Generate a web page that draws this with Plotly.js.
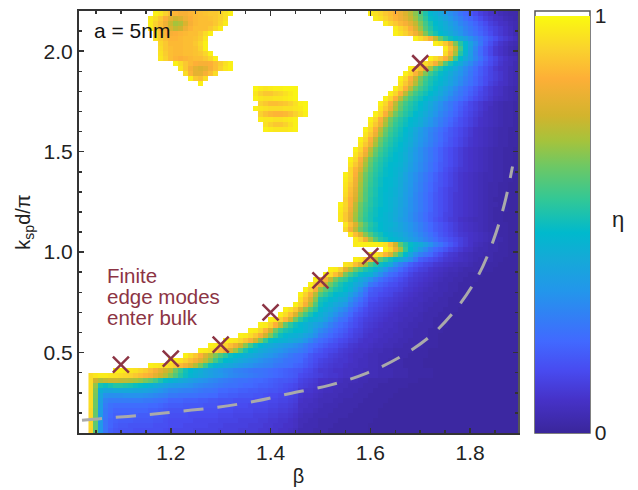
<!DOCTYPE html>
<html><head><meta charset="utf-8">
<script src="https://cdn.plot.ly/plotly-3.0.1.min.js"></script>
<style>html,body{margin:0;padding:0;background:#fff}</style></head>
<body><div id="g" style="width:638px;height:490px"></div>
<script>
const betaCols=[1.04,1.05,1.06,1.07,1.08,1.09,1.10,1.11,1.12,1.13,1.14,1.15,1.16,1.17,1.18,1.19,1.20,1.21,1.22,1.23,1.24,1.25,1.26,1.27,1.28,1.29,1.30,1.31,1.32,1.33,1.34,1.35,1.36,1.37,1.38,1.39,1.40,1.41,1.42,1.43,1.44,1.45,1.46,1.47,1.48,1.49,1.50,1.51,1.52,1.53,1.54,1.55,1.56,1.57,1.58,1.59,1.60,1.61,1.62,1.63,1.64,1.65,1.66,1.67,1.68,1.69,1.70,1.71,1.72,1.73,1.74,1.75,1.76,1.77,1.78,1.79,1.80,1.81,1.82,1.83,1.84,1.85,1.86,1.87,1.88,1.89,1.90];
const kRows=[2.1875,2.1625,2.1375,2.1125,2.0875,2.0625,2.0375,2.0125,1.9875,1.9625,1.9375,1.9125,1.8875,1.8625,1.8375,1.8125,1.7875,1.7625,1.7375,1.7125,1.6875,1.6625,1.6375,1.6125,1.5875,1.5625,1.5375,1.5125,1.4875,1.4625,1.4375,1.4125,1.3875,1.3625,1.3375,1.3125,1.2875,1.2625,1.2375,1.2125,1.1875,1.1625,1.1375,1.1125,1.0875,1.0625,1.0375,1.0125,0.9875,0.9625,0.9375,0.9125,0.8875,0.8625,0.8375,0.8125,0.7875,0.7625,0.7375,0.7125,0.6875,0.6625,0.6375,0.6125,0.5875,0.5625,0.5375,0.5125,0.4875,0.4625,0.4375,0.4125,0.3875,0.3625,0.3375,0.3125,0.2875,0.2625,0.2375,0.2125,0.1875,0.1625,0.1375,0.1125];
// each row: [first column, values (percent)] segments; everything else is white
const etaRows=[
[[13,[98,96,92,88,86,84,84,86,87,88,89,90,90,92,95,98]],[56,[97,95,93,90,88,85,82,78,73,67,60,53,47,44,40,36,32,29,25,22,18,15,12,10,8,7,5,4,3,3,2]]],
[[12,[97,94,90,85,80,76,78,82,85,87,88,88,89,90,92,95]],[57,[97,95,92,89,86,83,80,75,69,62,55,49,46,43,39,35,31,28,24,21,18,15,12,10,8,7,5,4,3,3]]],
[[12,[97,92,88,82,75,70,72,78,84,87,88,88,88,90,93,97]],[59,[97,93,90,87,84,80,74,66,58,52,48,45,42,38,34,30,27,24,21,18,15,12,10,8,7,5,4,3]]],
[[12,[97,92,88,84,78,74,76,82,86,88,88,88,90,93,97]],[61,[97,93,90,85,78,69,60,54,49,46,43,40,36,33,29,26,23,20,17,14,12,10,8,6,4,3]]],
[[13,[94,90,86,84,85,86,87,88,88,90,94,98]],[61,[98,95,92,88,83,76,66,57,52,48,45,42,38,34,30,27,24,21,18,15,12,10,8,6,4,3]]],
[[13,[95,91,88,86,86,87,88,88,89,91,96]],[65,[98,94,90,84,74,63,55,50,46,42,38,33,29,25,21,18,15,12,10,8,6,4]]],
[[14,[93,90,87,87,87,88,88,90,93,98]],[69,[98,95,90,80,66,54,47,39,32,26,20,16,12,9,7,5,4,3]]],
[[14,[94,90,88,87,87,88,88,89,92,98]],[71,[97,88,74,58,47,38,30,23,18,14,10,8,6,4,3,2]]],
[[14,[95,91,88,87,87,88,88,89,90,93,98]],[71,[94,84,70,54,46,37,29,23,18,14,10,8,6,4,3,2]]],
[[14,[96,92,88,86,85,86,87,88,88,90,93,98]],[68,[98,94,90,85,74,58,48,42,36,30,25,20,16,13,10,8,6,5,3]]],
[[17,[98,94,90,87,85,84,84,85,88,91,95,98]],[66,[98,94,90,84,72,60,52,47,42,36,31,26,22,18,15,12,9,7,6,4,3]]],
[[18,[96,90,84,80,78,80,84,88,92,96,98]],[64,[98,93,88,80,70,60,54,49,45,41,36,31,27,23,19,16,13,10,8,7,5,4,3]]],
[[19,[94,86,80,80,84,88,94]],[63,[98,93,86,76,66,58,53,49,46,42,38,34,30,26,22,19,16,13,11,9,7,5,4,3]]],
[[20,[98,90,88,94]],[62,[98,93,85,75,65,58,53,50,47,44,40,36,32,28,25,21,18,15,13,11,9,7,5,4,3]]],
[[22,[98]],[62,[96,90,82,72,63,56,52,49,46,43,39,35,31,27,24,21,18,15,12,10,8,7,5,4,3]]],
[[33,[99,97,96,97,98,98,99,99,99]],[61,[98,93,85,73,64,58,54,50,47,43,39,35,31,27,24,21,18,15,12,10,8,7,5,4,3,3]]],
[[33,[96,92,90,90,92,93,95,97,99]],[60,[98,93,85,73,64,58,54,51,48,45,41,37,33,29,26,23,20,17,14,12,10,8,7,5,4,3,3]]],
[[33,[98,96,95,95,96,96,97,98,99]],[59,[98,93,85,73,64,58,54,51,48,45,42,38,34,30,27,24,21,18,15,13,11,9,7,6,5,4,3,2]]],
[[34,[92,90,88,88,89,90,92,95,98,99]],[58,[98,93,85,73,64,58,54,51,48,45,41,37,33,29,26,23,20,17,14,12,10,8,7,5,4,3,3,2,2]]],
[[33,[98,96,95,94,94,94,95,95,96,97,99]],[58,[96,90,82,70,62,56,53,50,47,44,40,36,32,29,26,22,19,16,14,12,10,8,6,5,4,3,3,2,2]]],
[[34,[92,89,87,86,86,87,89,92,95,98]],[57,[98,93,85,73,64,58,54,51,48,45,42,38,34,30,27,24,21,18,15,13,11,9,7,6,5,4,3,3,2,2]]],
[[34,[97,96,96,95,95,96,97,98]],[56,[98,93,85,73,64,58,54,51,48,46,43,39,35,31,28,25,22,19,16,14,12,10,8,7,6,5,4,3,3,2,1]]],
[[35,[95,92,90,90,92,95,98]],[56,[96,90,82,70,62,56,53,50,47,45,42,38,34,31,27,24,21,18,16,14,12,10,8,7,6,5,4,3,3,2,1]]],
[[35,[98,97,96,96,96,97,98]],[55,[98,93,85,73,64,58,54,51,48,45,41,37,33,30,27,24,21,18,16,14,12,10,8,7,6,5,4,3,3,2,2,1]]],
[[55,[96,90,82,70,62,56,53,50,47,44,40,36,33,29,26,23,20,18,16,14,12,10,8,7,6,5,4,3,3,2,2,1]]],
[[54,[98,93,85,73,64,58,54,51,49,46,43,39,35,32,29,26,23,20,17,15,13,11,9,8,7,6,5,4,3,3,2,2,1]]],
[[54,[96,90,82,70,62,56,53,50,48,45,42,38,34,31,28,25,22,19,17,15,13,11,9,8,7,6,5,4,3,3,2,2,1]]],
[[53,[98,93,85,73,64,58,54,51,49,47,44,40,36,32,29,26,23,20,17,15,13,11,9,8,7,6,5,4,3,3,2,2,1,1]]],
[[53,[96,90,82,70,62,56,53,50,48,46,43,39,35,32,29,26,23,20,17,15,13,11,9,8,7,6,5,4,3,3,2,2,1,1]]],
[[52,[98,93,85,73,64,58,54,51,49,48,46,43,39,35,32,29,26,23,20,17,15,13,11,9,8,7,6,5,4,3,3,2,2,1,1]]],
[[52,[96,90,82,70,62,56,53,50,48,47,45,42,38,34,31,28,25,22,19,17,15,13,11,9,8,7,6,5,4,3,3,2,2,1,1]]],
[[52,[93,86,78,67,60,55,52,49,48,46,44,41,37,34,31,28,25,22,19,16,14,12,10,9,8,7,6,5,4,3,3,2,2,1,1]]],
[[51,[98,93,85,73,64,58,54,51,49,48,46,43,39,35,32,29,26,23,20,17,15,13,11,9,8,7,6,5,4,4,3,3,2,2,1,1]]],
[[51,[97,92,83,72,63,57,53,50,48,47,45,42,39,35,32,29,26,23,20,17,15,13,11,9,8,7,6,5,4,4,3,3,2,2,1,1]]],
[[51,[96,90,82,70,62,56,53,50,48,47,45,42,38,35,31,28,25,22,19,17,15,13,11,9,8,7,6,5,4,3,3,2,2,1,1,1]]],
[[51,[95,88,80,69,61,55,52,49,48,46,44,41,38,34,31,28,25,22,19,16,14,12,11,9,8,7,6,5,4,3,3,2,2,1,1,1]]],
[[51,[94,87,79,68,60,55,52,49,47,46,44,41,37,34,30,27,24,21,18,16,14,12,10,9,8,7,6,5,4,3,3,2,2,1,1,1]]],
[[51,[92,85,77,67,60,54,51,49,47,45,43,40,37,33,30,27,24,21,18,16,14,12,10,9,8,7,6,5,4,3,2,2,2,1,1,1]]],
[[50,[98,93,85,73,64,58,54,51,49,47,45,43,40,37,33,30,27,24,21,18,16,14,12,10,9,8,7,6,5,4,3,3,2,2,1,1,1]]],
[[50,[97,92,83,72,63,57,53,50,48,47,45,42,39,36,33,30,27,24,21,18,16,14,12,10,9,8,7,6,5,4,3,2,2,2,1,1,1]]],
[[50,[96,90,81,70,62,56,52,50,48,46,44,42,39,36,32,29,26,23,20,18,16,13,12,10,9,8,7,6,5,4,3,2,2,1,1,1,1]]],
[[50,[96,90,80,69,61,55,52,49,47,46,44,41,38,35,32,29,26,23,20,17,15,13,11,10,8,7,6,5,5,4,3,2,2,1,1,1,1]]],
[[51,[96,88,78,67,60,54,51,48,46,45,43,40,37,34,31,28,25,22,19,17,15,13,11,9,8,7,6,5,4,3,3,2,2,1,1,1]]],
[[51,[93,84,73,64,58,53,50,48,46,44,42,40,37,34,31,28,25,22,19,17,15,13,11,9,8,7,6,5,4,3,3,2,2,1,1,1]]],
[[52,[96,88,78,67,60,54,51,48,46,44,42,39,36,33,30,27,24,21,18,16,14,12,10,9,8,7,6,5,4,3,2,2,1,1,1]]],
[[53,[97,92,82,70,61,54,51,48,46,44,41,38,35,32,29,26,23,20,18,16,14,12,10,8,7,6,5,4,3,3,2,1,1,1]]],
[[53,[97,98,98,98,98,97,95,88,76,62,54,49,45,42,38,33,28,25,21,18,15,12,10,8,6,5,4,3,3,2,2,1,1,1]]],
[[59,[98,93,82,70,56,48,42,36,31,26,22,20,17,14,12,10,8,7,5,4,4,3,3,2,2,1,1,1]]],
[[56,[98,96,92,86,78,66,56,48,40,33,28,25,22,18,15,12,10,9,7,6,5,4,4,3,3,2,2,2,1,1,1]]],
[[53,[98,96,90,82,72,62,56,51,46,42,37,32,26,20,18,16,14,12,10,9,8,7,6,5,4,3,3,3,2,2,1,1,1,1]]],
[[51,[96,94,88,80,70,60,54,50,46,41,33,28,24,20,17,15,13,12,10,9,8,7,6,5,5,4,3,3,2,2,2,1,1,1,1,1]]],
[[48,[98,97,92,80,72,64,58,53,50,45,40,34,29,26,22,19,16,14,12,11,9,8,7,6,5,5,4,3,3,3,2,2,2,1,1,1,1,1,1]]],
[[47,[98,94,88,78,65,58,53,49,46,44,38,32,27,23,21,18,16,13,11,10,9,8,7,6,5,4,4,3,3,2,2,2,1,1,1,1,1,1,1,1]]],
[[45,[98,90,84,74,65,58,55,50,46,42,38,33,28,24,21,19,17,15,13,11,10,9,8,7,6,5,4,4,3,3,2,2,2,1,1,1,1,1,1,1,1,1]]],
[[44,[98,92,84,74,64,57,52,49,46,42,38,33,26,23,20,18,16,15,13,12,10,9,8,7,6,5,4,4,3,3,2,2,2,1,1,1,1,1,1,1,1,1,1]]],
[[43,[98,92,84,68,62,57,52,50,48,44,38,32,26,20,18,17,15,14,13,12,10,9,8,7,6,5,5,4,4,3,3,2,2,2,1,1,1,1,1,1,1,1,1,1]]],
[[42,[98,92,84,72,60,55,51,48,46,44,38,33,28,23,18,17,15,14,13,11,10,9,8,7,6,5,5,4,4,3,3,2,2,2,1,1,1,1,1,1,1,1,1,1,1]]],
[[42,[95,88,78,66,52,50,47,45,42,40,33,28,24,20,16,15,13,12,11,10,9,8,7,6,6,5,4,4,3,3,2,2,2,2,1,1,1,1,1,1,1,1,1,1,1]]],
[[41,[98,92,84,72,60,50,47,44,41,38,35,29,25,21,18,14,13,12,11,10,9,8,7,6,6,5,4,4,3,3,3,2,2,2,1,1,1,1,1,1,1,1,1,1,1,1]]],
[[39,[98,95,90,78,68,60,54,47,44,41,37,33,30,25,21,18,15,13,12,11,10,9,8,7,6,6,5,5,4,3,3,3,2,2,2,1,1,1,1,1,1,1,1,1,1,1,1,1]]],
[[38,[98,94,88,78,66,58,52,48,44,41,37,33,29,26,22,18,16,14,12,11,10,9,8,7,6,6,5,5,4,3,3,3,2,2,2,1,1,1,1,1,1,1,1,1,1,1,1,1,1]]],
[[36,[98,97,92,86,76,64,55,50,46,44,42,38,33,29,25,23,19,16,14,12,11,10,9,8,7,7,6,5,5,4,4,3,3,2,2,2,1,1,1,1,1,1,1,1,1,1,1,1,1,1,1]]],
[[34,[98,97,92,85,74,62,55,50,47,45,42,39,36,32,28,25,22,20,17,15,13,11,10,9,8,7,7,6,5,5,4,4,3,3,3,2,2,2,1,1,1,1,1,1,1,1,1,1,1,1,1,1,1]]],
[[32,[98,97,93,86,76,64,56,52,50,48,47,44,41,35,31,28,25,22,20,18,15,13,12,10,9,8,7,7,6,6,5,4,4,3,3,3,2,2,2,1,1,1,1,1,1,1,1,1,1,1,1,1,1,1,1]]],
[[30,[98,97,94,90,84,76,66,56,50,47,45,44,42,39,36,32,27,25,22,20,18,16,14,12,11,9,8,8,7,6,6,5,5,4,4,3,3,3,2,2,1,1,1,1,1,1,1,1,1,1,1,1,1,1,1,1,1]]],
[[27,[98,97,96,93,89,84,76,66,56,49,47,45,44,42,40,38,34,30,26,23,21,19,17,15,14,12,11,9,8,8,7,6,6,5,5,4,4,3,3,3,2,2,2,1,1,1,1,1,1,1,1,1,1,1,1,1,1,1,1,1]]],
[[24,[98,97,95,92,88,83,76,67,58,51,47,44,42,40,38,36,34,32,30,27,24,22,20,18,16,15,13,12,10,9,8,8,7,6,6,5,5,4,4,3,3,3,3,2,2,2,1,1,1,1,1,1,1,1,1,1,1,1,1,1,1,1,1]]],
[[22,[98,97,95,92,88,83,77,69,60,52,48,45,42,40,38,36,34,32,30,29,27,25,22,19,17,15,14,13,11,10,9,8,7,7,6,5,5,4,4,3,3,3,3,2,2,2,1,1,1,1,1,1,1,1,1,1,1,1,1,1,1,1,1,1,1]]],
[[19,[98,94,90,85,78,72,66,60,55,50,48,46,44,42,40,38,36,34,32,30,28,26,24,23,21,18,16,15,14,12,11,10,9,8,7,7,6,5,5,4,4,4,3,3,3,2,2,2,2,1,1,1,1,1,1,1,1,1,1,1,1,1,1,1,1,1,1,1]]],
[[16,[98,97,95,92,88,84,79,73,66,58,52,48,46,43,41,39,37,35,33,31,30,28,27,25,24,23,22,19,17,15,13,12,11,10,9,9,8,7,6,6,5,5,4,4,3,3,3,2,2,2,2,1,1,1,1,1,1,1,1,1,1,1,1,1,1,1,1,1,1,1,1]]],
[[12,[98,97,96,95,93,90,87,83,78,72,65,57,50,46,44,42,40,38,36,34,33,31,30,29,28,26,25,24,23,21,20,18,16,14,12,11,10,9,9,8,7,7,6,6,5,5,4,4,3,3,3,2,2,2,2,1,1,1,1,1,1,1,1,1,1,1,1,1,1,1,1,1,1,1,1]]],
[[5,[98,98,97,96,95,93,91,88,84,80,76,72,64,57,51,48,45,43,40,38,36,34,32,31,29,28,27,26,25,25,24,23,22,21,20,19,18,17,15,14,12,10,10,9,8,8,7,7,6,6,5,5,5,4,4,4,3,3,3,2,2,2,2,2,1,1,1,1,1,1,1,1,1,1,1,1,1,1,1,1,1,1]]],
[[0,[94,96,97,97,96,95,94,93,92,90,88,86,84,80,76,72,66,60,54,50,46,44,42,40,38,36,35,33,31,30,29,28,27,26,25,24,23,22,21,20,19,18,15,14,13,12,11,10,9,9,8,7,7,6,6,5,5,5,4,4,4,3,3,3,2,2,2,2,2,1,1,1,1,1,1,1,1,1,1,1,1,1,1,1,1,1,1]]],
[[0,[94,76,72,74,75,75,74,73,72,70,68,65,62,58,53,49,46,44,42,40,38,36,34,33,31,30,28,27,26,25,24,24,23,22,22,21,20,19,18,18,17,16,13,12,11,10,8,8,7,7,6,5,5,5,4,4,3,3,3,3,2,2,2,2,2,2,1,1,1,1,1,1,1,1,1,1,1,1,1,1,1,1,1,1,1,1,1]]],
[[0,[94,68,52,50,52,54,54,53,52,50,49,47,45,43,41,39,37,36,35,34,33,31,30,29,28,27,26,25,24,24,23,22,22,21,20,20,19,18,17,16,15,14,12,11,10,9,7,7,6,6,5,5,4,4,4,3,3,3,2,2,2,2,2,2,1,1,1,1,1,1,1,1,1,1,1,1,1,1,1,1,1,1,1,1,1,1,1]]],
[[0,[94,66,44,40,40,41,41,41,41,40,40,39,38,36,34,32,30,30,29,28,28,27,26,25,25,24,22,22,21,21,20,20,19,19,18,18,17,17,16,15,14,13,10,9,9,8,7,6,6,5,5,4,4,4,3,3,3,2,2,2,2,2,1,1,1,1,1,1,1,1,1,1,1,1,1,1,1,1,1,1,1,1,1,1,1,1,1]]],
[[0,[94,65,40,33,32,32,32,33,33,33,33,32,31,30,29,28,26,26,25,25,24,24,23,23,22,22,20,20,19,19,18,18,18,17,17,16,15,15,14,14,13,12,9,8,8,7,6,5,5,5,4,4,4,3,3,3,2,2,2,2,2,1,1,1,1,1,1,1,1,1,1,1,1,1,1,1,1,1,1,1,1,1,1,1,1,1,1]]],
[[0,[94,64,38,29,27,27,27,27,27,27,27,26,26,25,24,23,21,21,21,20,20,20,19,19,18,18,17,17,17,16,16,16,16,15,15,15,14,14,13,13,12,11,8,7,7,6,5,5,5,4,4,3,3,3,3,2,2,2,2,2,1,1,1,1,1,1,1,1,1,1,1,1,1,1,1,1,1,1,1,1,1,1,1,1,1,1,1]]],
[[0,[94,64,37,27,24,23,23,23,23,23,23,23,22,22,21,20,19,19,19,18,18,18,18,17,17,17,16,16,16,15,15,15,14,14,14,14,13,13,12,12,11,10,7,7,6,6,5,4,4,4,3,3,3,3,2,2,2,2,2,1,1,1,1,1,1,1,1,1,1,1,1,1,1,1,1,1,1,1,1,1,1,1,1,1,1,1,1]]],
[[0,[93,63,37,26,23,21,21,21,21,21,21,21,20,20,19,18,17,17,17,17,16,16,16,16,16,16,15,15,15,14,14,14,14,13,13,13,12,12,11,11,10,9,7,6,6,5,4,4,4,3,3,3,3,2,2,2,2,2,1,1,1,1,1,1,1,1,1,1,1,1,1,1,1,1,1,1,1,1,1,1,1,1,1,1,1,1,1]]],
[[0,[93,63,36,26,22,20,20,20,20,20,19,19,19,18,18,17,16,16,16,16,15,15,15,15,15,15,14,14,14,13,13,13,13,12,12,12,11,11,10,10,9,8,6,5,5,4,4,4,3,3,3,3,2,2,2,2,2,2,1,1,1,1,1,1,1,1,1,1,1,1,1,1,1,1,1,1,1,1,1,1,1,1,1,1,1,1,1]]],
[[0,[93,62,36,25,21,20,19,19,19,18,18,18,18,17,17,16,15,15,15,15,15,14,14,14,14,14,13,13,13,13,12,12,12,12,11,11,10,10,9,9,8,7,5,5,4,4,3,3,3,3,2,2,2,2,2,2,2,1,1,1,1,1,1,1,1,1,1,1,1,1,1,1,1,1,1,1,1,1,1,1,1,1,1,1,1,1,1]]],
[[0,[93,62,35,25,21,19,18,18,17,17,17,17,17,16,16,16,15,15,15,14,14,14,14,14,13,13,13,12,12,12,12,12,11,11,11,10,10,9,9,8,8,7,5,4,4,4,3,3,3,2,2,2,2,2,2,2,1,1,1,1,1,1,1,1,1,1,1,1,1,1,1,1,1,1,1,1,1,1,1,1,1,1,1,1,1,1,1]]],
[[0,[92,62,35,25,20,18,17,17,17,16,16,16,16,16,16,15,14,14,14,14,14,13,13,13,13,13,12,12,12,12,11,11,11,11,10,10,9,9,8,8,7,6,4,4,4,3,3,3,2,2,2,2,2,2,2,2,1,1,1,1,1,1,1,1,1,1,1,1,1,1,1,1,1,1,1,1,1,1,1,1,1,1,1,1,1,1,1]]]
];
const crossBeta=[1.1,1.2,1.3,1.4,1.5,1.6,1.7];
const crossK=[0.44,0.47,0.54,0.70,0.86,0.98,1.94];
const lineBeta=[1.022,1.064,1.142,1.218,1.294,1.368,1.442,1.519,1.593,1.663,1.725,1.775,1.817,1.847,1.869,1.885];
const lineK=[0.163,0.173,0.188,0.208,0.228,0.258,0.298,0.338,0.398,0.483,0.592,0.727,0.887,1.061,1.241,1.426];
const colorStops=[[0,'rgb(58,38,155)'],[0.08,'rgb(70,50,200)'],[0.15,'rgb(72,75,240)'],[0.22,'rgb(65,105,255)'],[0.34,'rgb(35,150,235)'],[0.42,'rgb(20,170,215)'],[0.48,'rgb(0,185,205)'],[0.56,'rgb(50,200,150)'],[0.64,'rgb(110,200,100)'],[0.70,'rgb(165,195,60)'],[0.76,'rgb(210,180,45)'],[0.85,'rgb(253,175,55)'],[0.92,'rgb(250,210,45)'],[1,'rgb(250,250,15)']];
const z=etaRows.map(segs=>{const r=betaCols.map(()=>null);segs.forEach(s=>s[1].forEach((v,i)=>{if(s[0]+i<r.length)r[s[0]+i]=v/100;}));return r;});
const font='"Liberation Sans",Arial,sans-serif',maroon='rgb(140,52,68)',axc='#333';
const xTicks={range:[1.016,1.896],tick0:1.2,dtick:0.2,minor:{dtick:0.05,ticks:'inside',ticklen:3,tickwidth:1.5,tickcolor:axc}};
const yTicks={range:[0.1,2.2],tick0:0.5,dtick:0.5,tickformat:'.1f',minor:{dtick:0.1,ticks:'inside',ticklen:3,tickwidth:1.5,tickcolor:axc}};
const ax={showline:true,linecolor:axc,linewidth:2,ticks:'inside',ticklen:5,tickwidth:1.5,tickcolor:axc,showgrid:false,zeroline:false,tickfont:{size:21,color:'#222'}};
const ann=(t,x,y,c,s,xa)=>({text:t,x:x,y:y,xref:'paper',yref:'paper',xanchor:xa||'left',yanchor:'middle',showarrow:false,font:{size:s,color:c,family:font}});
const cbTick=y=>({type:'line',xref:'paper',yref:'paper',x0:1.1526,x1:1.164,y0:y,y1:y,line:{color:axc,width:1.5}});
Plotly.newPlot('g',[
{type:'heatmap',x:betaCols,y:kRows,z:z,zmin:0,zmax:1,zsmooth:false,colorscale:colorStops,hoverongaps:false,
 colorbar:{x:1.0387,xanchor:'left',xpad:0,y:0,yanchor:'bottom',ypad:0,len:0.987,lenmode:'fraction',thickness:55,thicknessmode:'pixels',outlinewidth:0,ticks:'inside',ticklen:5,tickwidth:1.5,tickcolor:axc,tickmode:'array',tickvals:[0,1],ticktext:['0','1'],tickfont:{size:21,color:'#222',family:font}}},
{type:'scatter',mode:'lines',xaxis:'x2',yaxis:'y2',x:lineBeta,y:lineK,line:{color:'rgb(170,170,170)',width:3,dash:'20px,14px',shape:'spline'},showlegend:false},
{type:'scatter',mode:'markers',xaxis:'x2',yaxis:'y2',x:crossBeta,y:crossK,marker:{symbol:'x-thin',size:16,color:maroon,line:{color:maroon,width:2.5}},showlegend:false}
],{width:638,height:490,margin:{l:79,r:120,t:11,b:57},paper_bgcolor:'#fff',plot_bgcolor:'#fff',showlegend:false,font:{family:font,size:20,color:'#222'},
xaxis:Object.assign({},ax,xTicks,{title:{text:'β',standoff:6,font:{size:20}}}),
yaxis:Object.assign({},ax,yTicks,{title:{text:'k<sub>sp</sub>d/π',standoff:8,font:{size:20}}}),
xaxis2:Object.assign({},ax,xTicks,{overlaying:'x',side:'top',anchor:'y2',showticklabels:false}),
yaxis2:Object.assign({},ax,yTicks,{overlaying:'y',side:'right',anchor:'x2',showticklabels:false,linecolor:'#555'}),
shapes:[{type:'rect',xref:'paper',yref:'paper',x0:1.0387,x1:1.164,y0:0,y1:1,line:{color:'#555',width:1.5},fillcolor:'rgba(0,0,0,0)'},cbTick(0.1967),cbTick(0.3934),cbTick(0.5924),cbTick(0.7891)],
annotations:[ann('a = 5nm',0.03,0.953,'#111',21),ann('Finite',0.059,0.3744,maroon,20.5),ann('edge modes',0.059,0.3246,maroon,20.5),ann('enter bulk',0.059,0.2740,maroon,20.5),ann('η',1.228,0.505,'#222',22,'center')]
},{displayModeBar:false,staticPlot:true});
</script></body></html>
